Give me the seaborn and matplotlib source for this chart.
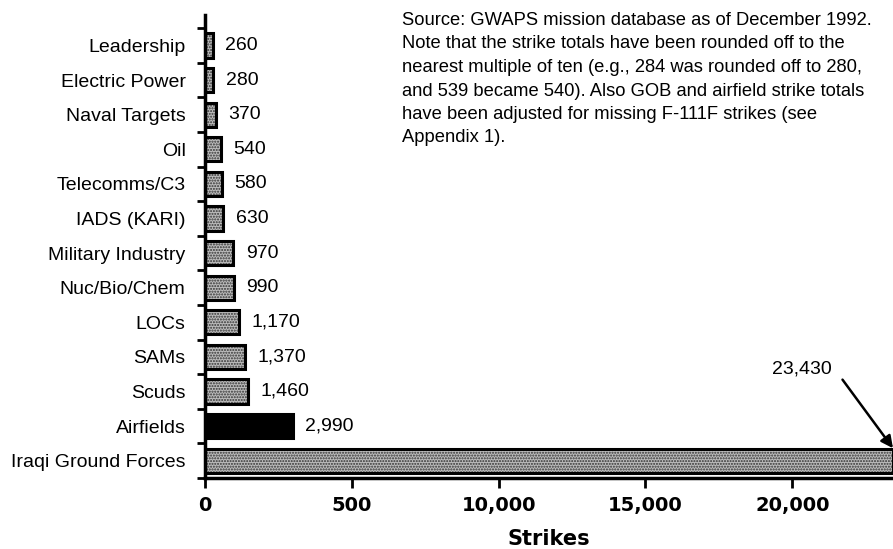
import matplotlib
matplotlib.use('Agg')
import matplotlib.pyplot as plt
import seaborn as sns

categories = ['Leadership', 'Electric Power', 'Naval Targets', 'Oil', 'Telecomms/C3',
              'IADS (KARI)', 'Military Industry', 'Nuc/Bio/Chem', 'LOCs', 'SAMs',
              'Scuds', 'Airfields', 'Iraqi Ground Forces']
strikes = [260, 280, 370, 540, 580, 630, 970, 990, 1170, 1370, 1460, 2990, 23430]
xticks = [0, 5000, 10000, 15000, 20000]
xtick_labels = ['0', '500', '10,000', '15,000', '20,000']   # "500" as printed in the source
note = ("Source: GWAPS mission database as of December 1992.\n"
        "Note that the strike totals have been rounded off to the\n"
        "nearest multiple of ten (e.g., 284 was rounded off to 280,\n"
        "and 539 became 540). Also GOB and airfield strike totals\n"
        "have been adjusted for missing F-111F strikes (see\n"
        "Appendix 1).")

sns.set_style('ticks')
plt.rcParams['font.family'] = ['Liberation Sans', 'DejaVu Sans']
for k in ['text.color', 'axes.labelcolor', 'xtick.color', 'ytick.color', 'axes.edgecolor']:
    plt.rcParams[k] = 'black'

fig = plt.figure(figsize=(8.93, 5.49), dpi=100)
ax = fig.add_axes([205 / 893, 1 - 478 / 549, 1 - 205 / 893, (478 - 15) / 549])

fills = ['#000000' if c == 'Airfields' else '#bcbcbc' for c in categories]
sns.barplot(x=strikes, y=categories, hue=categories, palette=fills, legend=False,
            orient='h', width=0.7, ax=ax, linewidth=0)
for p, c in zip(ax.patches, fills):
    if c != '#000000':
        p.set_hatch('......')
        p.set_edgecolor('#333333')
sns.barplot(x=strikes, y=categories, color='black', fill=False, orient='h',
            width=0.7, ax=ax, linewidth=2.2)

ax.set_xlim(0, 23430)
ax.set_ylim(12.5, -0.88)
ax.set_xticks(xticks)
ax.set_xticklabels(xtick_labels, fontsize=14, fontweight='bold', family='DejaVu Sans')
ax.set_xlabel('Strikes', fontsize=15, fontweight='bold', family='DejaVu Sans', labelpad=10)
ax.set_ylabel('')
ax.tick_params(axis='x', length=7, width=2, pad=6)
ax.tick_params(axis='y', which='major', length=0, labelsize=14, pad=14)
ax.set_yticks([i - 0.5 for i in range(len(categories) + 1)], minor=True)
ax.tick_params(axis='y', which='minor', length=6, width=2)
sns.despine(ax=ax, top=True, right=True)
ax.spines['left'].set_linewidth(2.5)
ax.spines['bottom'].set_linewidth(2.5)

for i, v in enumerate(strikes[:-1]):
    ax.annotate(f'{v:,}', xy=(v, i), xytext=(9, 0), textcoords='offset points',
                va='center', ha='left', fontsize=14)

ax.annotate(f'{strikes[-1]:,}', xy=(strikes[-1], len(strikes) - 1 - 0.36),
            xytext=(-44, 51), textcoords='offset points', ha='right', va='bottom',
            fontsize=14,
            arrowprops=dict(arrowstyle='-|>', color='black', lw=1.8,
                            mutation_scale=18, relpos=(1.15, 0), shrinkA=2, shrinkB=0),
            annotation_clip=False)

fig.text(402 / 893, 1 - 12 / 549, note, ha='left', va='top', fontsize=13.2,
         linespacing=1.5)

fig.savefig('out.png', dpi=100)
